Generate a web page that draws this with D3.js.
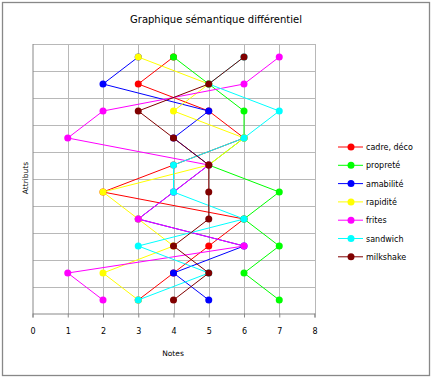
<!DOCTYPE html>
<html>
<head>
<meta charset="utf-8">
<script src="https://cdn.jsdelivr.net/npm/d3@7"></script>
<style>
  html, body { margin: 0; padding: 0; background: #fff; }
  svg { display: block; }
  text { font-family: "DejaVu Sans", Verdana, sans-serif; fill: #000; }
</style>
</head>
<body>
<svg id="chart" width="432" height="378"></svg>
<script>
// ---- data ----
const attributes = [1, 2, 3, 4, 5, 6, 7, 8, 9, 10]; // rows, top to bottom
const seriesNames = ["cadre, déco", "propreté", "amabilité", "rapidité", "frites", "sandwich", "milkshake"];
const seriesColors = ["#ff0000", "#00ff00", "#0000ff", "#ffff00", "#ff00ff", "#00ffff", "#800000"];
const cadre     = [4, 3, 5, 6, 4, 2, 6, 5, 4, 3];
const proprete  = [4, 5, 6, 6, 5, 7, 6, 7, 6, 7];
const amabilite = [3, 2, 5, 4, 5, 4, 3, 6, 4, 5];
const rapidite  = [3, 5, 4, 6, 5, 2, 3, 4, 2, 3];
const frites    = [7, 6, 2, 1, 5, 4, 3, 6, 1, 2];
const sandwich  = [6, 5, 7, 6, 4, 4, 6, 3, 5, 3];
const milkshake = [6, 5, 3, 4, 5, 5, 5, 4, 5, 4];
const xTicks = [0, 1, 2, 3, 4, 5, 6, 7, 8];
const yTicks = [0, 1, 2, 3, 4, 5, 6, 7, 8, 9, 10];
const allSeries = [cadre, proprete, amabilite, rapidite, frites, sandwich, milkshake];

// ---- layout ----
const svg = d3.select("#chart");
const W = 432, H = 378;
const plot = { left: 32.5, right: 314.5, top: 43.5, bottom: 313.5 };

svg.append("rect").attr("x", 2.5).attr("y", 2.5).attr("width", W - 5).attr("height", H - 5)
  .attr("fill", "#fff").attr("stroke", "#888").attr("stroke-width", 1.3);

const x = d3.scaleLinear().domain([0, 8]).range([plot.left, plot.right]);
const y = d3.scaleLinear().domain([0, 10]).range([plot.bottom, plot.top]);
const rowY = i => y(attributes.length - i - 0.5);

// gridlines
const grid = svg.append("g").attr("stroke", "#b8b8b8").attr("stroke-width", 1).attr("shape-rendering", "crispEdges");
grid.selectAll("line.v").data(xTicks.slice(1)).join("line")
  .attr("x1", d => Math.round(x(d)) + 0.5).attr("x2", d => Math.round(x(d)) + 0.5)
  .attr("y1", plot.top).attr("y2", plot.bottom);
grid.selectAll("line.h").data(yTicks.slice(1)).join("line")
  .attr("x1", plot.left).attr("x2", plot.right)
  .attr("y1", d => Math.round(y(d)) + 0.5).attr("y2", d => Math.round(y(d)) + 0.5);

// x axis
const xAxis = d3.axisBottom(x).tickValues(xTicks).tickSize(4).tickPadding(11).tickFormat(d3.format("d"));
const gx = svg.append("g").attr("transform", `translate(0,${plot.bottom})`).call(xAxis);
gx.select(".domain").attr("stroke", "#888");
gx.selectAll(".tick line").attr("stroke", "#888");
gx.selectAll(".tick text").attr("font-size", 8).attr("font-family", "DejaVu Sans").attr("fill", "#000");

// y axis (no labels)
const yAxis = d3.axisLeft(y).tickValues(yTicks).tickSize(0).tickFormat("");
const gy = svg.append("g").attr("transform", `translate(${plot.left},0)`).call(yAxis);
gy.select(".domain").attr("stroke", "#888");

// axis titles
svg.append("text").attr("x", 173).attr("y", 356).attr("text-anchor", "middle")
  .attr("font-size", 7.5).text("Notes");
svg.append("text").attr("transform", "translate(28,178) rotate(-90)").attr("text-anchor", "middle")
  .attr("font-size", 7.5).text("Attributs");

// title
svg.append("text").attr("x", 216).attr("y", 23).attr("text-anchor", "middle")
  .attr("font-size", 10).text("Graphique sémantique différentiel");

// series
const line = d3.line().x(d => x(d.v)).y(d => rowY(d.i));
allSeries.forEach((vals, s) => {
  const pts = vals.map((v, i) => ({ v, i }));
  const g = svg.append("g");
  g.append("path").attr("d", line(pts)).attr("fill", "none")
    .attr("stroke", seriesColors[s]).attr("stroke-width", 1);
  g.selectAll("circle").data(pts).join("circle")
    .attr("cx", d => x(d.v)).attr("cy", d => rowY(d.i)).attr("r", 3.5)
    .attr("fill", seriesColors[s]);
});

// legend
const leg = svg.append("g");
seriesNames.forEach((name, s) => {
  const ly = 147 + s * 18.3;
  leg.append("line").attr("x1", 338).attr("x2", 363).attr("y1", ly).attr("y2", ly)
    .attr("stroke", seriesColors[s]).attr("stroke-width", 1);
  leg.append("circle").attr("cx", 351).attr("cy", ly).attr("r", 3.5).attr("fill", seriesColors[s]);
  leg.append("text").attr("x", 366).attr("y", ly + 3).attr("font-size", 8).text(name);
});
</script>
</body>
</html>
